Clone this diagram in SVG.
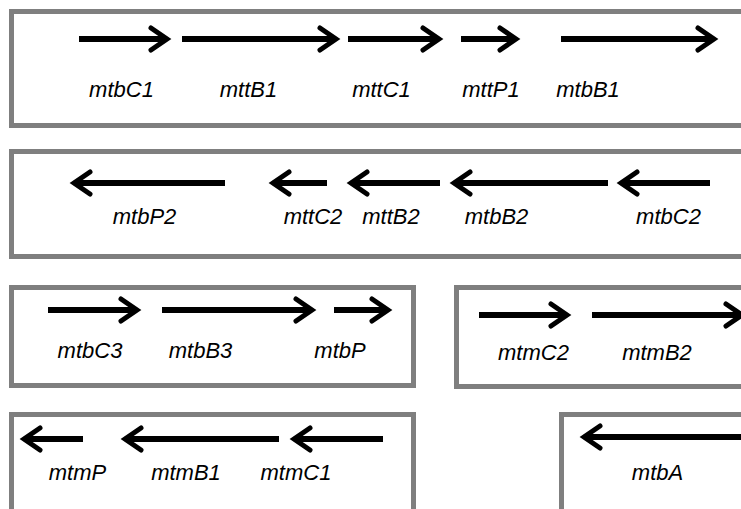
<svg xmlns="http://www.w3.org/2000/svg" width="741" height="509" viewBox="0 0 741 509">
<style>
.box{fill:#fff;stroke:#7f7f7f;stroke-width:5}
.arr{stroke:#000;stroke-width:6;fill:none;marker-end:url(#head)}
.lbl{font-family:"Liberation Sans",Arial,sans-serif;font-style:italic;font-size:22px;fill:#000;text-anchor:middle}
</style>
<defs>
<marker id="head" markerUnits="userSpaceOnUse" viewBox="-22 -16 28 32" refX="0" refY="0" markerWidth="28" markerHeight="32" orient="auto" overflow="visible">
<path d="M-15,-11 L1,0 L-15,11" fill="none" stroke="#000" stroke-width="5" stroke-linejoin="miter" stroke-linecap="round"/>
</marker>
</defs>
<rect width="741" height="509" fill="#fff"/>
<g id="operon1">
<rect class="box" x="11.5" y="11.5" width="760" height="114"/>
</g>
<g id="operon2">
<rect class="box" x="11.5" y="151.5" width="760" height="105"/>
</g>
<g id="operon3">
<rect class="box" x="11.5" y="287.5" width="402" height="98"/>
</g>
<g id="operon4">
<rect class="box" x="456.5" y="287.5" width="320" height="99"/>
</g>
<g id="operon5">
<rect class="box" x="11.5" y="414.5" width="402" height="120"/>
</g>
<g id="operon6">
<rect class="box" x="561.5" y="414.5" width="220" height="120"/>
</g>
<g id="connectors">
<line class="arr" x1="79" y1="39" x2="166" y2="39"/>
<line class="arr" x1="182" y1="39" x2="335" y2="39"/>
<line class="arr" x1="348" y1="39" x2="438" y2="39"/>
<line class="arr" x1="461" y1="39" x2="515" y2="39"/>
<line class="arr" x1="561" y1="39" x2="713" y2="39"/>
<line class="arr" x1="225" y1="183" x2="75" y2="183"/>
<line class="arr" x1="327" y1="183" x2="274" y2="183"/>
<line class="arr" x1="440" y1="183" x2="352" y2="183"/>
<line class="arr" x1="608" y1="183" x2="455" y2="183"/>
<line class="arr" x1="710" y1="183" x2="622" y2="183"/>
<line class="arr" x1="48" y1="310" x2="136" y2="310"/>
<line class="arr" x1="162" y1="310" x2="311" y2="310"/>
<line class="arr" x1="334" y1="310" x2="387" y2="310"/>
<line class="arr" x1="479" y1="315" x2="566" y2="315"/>
<line class="arr" x1="592" y1="315" x2="741" y2="315"/>
<line class="arr" x1="83" y1="439" x2="25" y2="439"/>
<line class="arr" x1="279" y1="439" x2="126" y2="439"/>
<line class="arr" x1="383" y1="439" x2="295" y2="439"/>
<line class="arr" x1="745" y1="437" x2="585" y2="437"/>
</g>
<g id="labels">
<text class="lbl" x="121.5" y="97">mtbC1</text>
<text class="lbl" x="248.5" y="97">mttB1</text>
<text class="lbl" x="381.5" y="97">mttC1</text>
<text class="lbl" x="491" y="97">mttP1</text>
<text class="lbl" x="588" y="97">mtbB1</text>
<text class="lbl" x="144.5" y="224">mtbP2</text>
<text class="lbl" x="313" y="224">mttC2</text>
<text class="lbl" x="391" y="224">mttB2</text>
<text class="lbl" x="496.5" y="224">mtbB2</text>
<text class="lbl" x="668.5" y="224">mtbC2</text>
<text class="lbl" x="90" y="358">mtbC3</text>
<text class="lbl" x="200.5" y="358">mtbB3</text>
<text class="lbl" x="340" y="358">mtbP</text>
<text class="lbl" x="533.5" y="360">mtmC2</text>
<text class="lbl" x="657" y="360">mtmB2</text>
<text class="lbl" x="77.5" y="480">mtmP</text>
<text class="lbl" x="186" y="480">mtmB1</text>
<text class="lbl" x="296" y="480">mtmC1</text>
<text class="lbl" x="657.5" y="480">mtbA</text>
</g>
</svg>
